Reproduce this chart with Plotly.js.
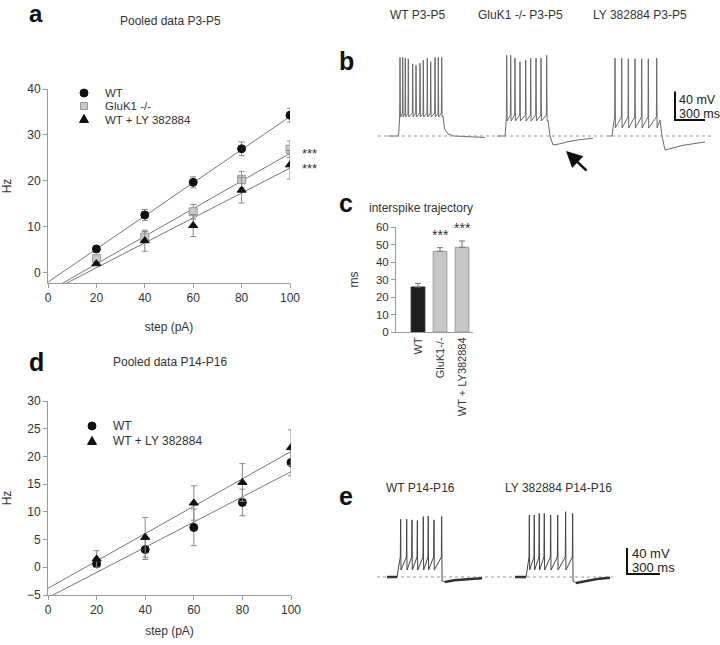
<!DOCTYPE html>
<html>
<head>
<meta charset="utf-8">
<script src="https://cdn.plot.ly/plotly-3.0.1.min.js"></script>
<style>html,body{margin:0;padding:0;background:#fff;}#chart{width:720px;height:645px;}</style>
</head>
<body>
<div id="chart"></div>
<script>
// ---------- DATA ----------
// Panel a: pooled data P3-P5
const steps = [20, 40, 60, 80, 100];
const a_wt = [5.2, 12.6, 19.7, 27.0, 34.3];
const a_wtErr = [0.6, 1.2, 1.2, 1.5, 1.5];
const a_gluk1 = [3.1, 7.8, 13.3, 20.3, 26.9];
const a_gluk1Err = [0.6, 1.2, 1.6, 1.8, 1.8];
const a_ly = [2.0, 7.0, 10.3, 18.0, 23.5];
const a_lyErr = [0.4, 2.3, 2.4, 2.8, 3.1];
const fitX = [0, 100];
const a_wtFit = [-2.0, 34.0];
const a_gluk1Fit = [-4.06, 26.0];
const a_lyFit = [-4.31, 22.8];
const a_yTicks = [0, 10, 20, 30, 40];
const xTicks = [0, 20, 40, 60, 80, 100];
const a_legend = ['WT', 'GluK1 -/-', 'WT + LY 382884'];

// Panel d: pooled data P14-P16
const d_wt = [0.6, 3.2, 7.2, 11.7, 18.9];
const d_wtErr = [0.4, 1.8, 3.3, 2.4, 2.4];
const d_ly = [1.5, 5.4, 11.6, 15.3, 21.6];
const d_lyErr = [1.5, 3.6, 3.1, 3.4, 3.2];
const d_wtFit = [-5.47, 17.25];
const d_lyFit = [-3.8, 20.9];
const d_yTicks = [-5, 0, 5, 10, 15, 20, 25, 30];
const d_legend = ['WT', 'WT + LY 382884'];

// Panel c: interspike trajectory (ms)
const c_cats = ['WT', 'GluK1-/-', 'WT + LY382884'];
const c_vals = [25.7, 46.1, 48.4];
const c_err = [2.1, 2.1, 3.6];
const c_yTicks = [0, 10, 20, 30, 40, 50, 60];

// Panel b: example traces P3-P5 (time ms, voltage mV relative to rest)
const b_wt = {start: 100, on: 205, rise: 12, up: 3, down: 4, pre: 32, trough: 26.6,
  spikeT: [220, 247, 273, 303, 347, 380, 420, 453, 493, 527, 570, 603, 637],
  spikeV: [110, 110, 109, 108, 101, 99, 102, 106, 109, 104, 110, 110, 110],
  tailT: [650, 665, 700, 760, 900, 1070], tailV: [28, 10, 3, 0, -1, -2]};
const b_gluk1 = {start: 1190, on: 1270, rise: 12, up: 3, down: 4, pre: 29.4, trough: 21,
  spikeT: [1287, 1327, 1370, 1420, 1477, 1527, 1580, 1630, 1687],
  spikeV: [113, 113, 109, 104, 106, 109, 109, 109, 113],
  tailT: [1700, 1720, 1750, 1800, 1900, 2000, 2150], tailV: [22, 0, -12.6, -11.5, -8, -5.5, -3]};
const b_ly = {start: 2310, on: 2340, rise: 10, up: 3, down: 4, pre: 26.6, trough: 11.2,
  spikeT: [2370, 2437, 2503, 2570, 2637, 2703, 2787],
  spikeV: [109, 109, 108, 108, 108, 108, 109],
  tailT: [2820, 2840, 2870, 2920, 3050, 3270], tailV: [22, 0, -19.6, -18, -13, -8.4]};
const b_baseline = [0, 3340];
const b_scaleX = [2970, 2970, 3270];
const b_scaleY = [62.4, 22.4, 22.4];

// Panel e: example traces P14-P16
const e_wt = {start: 91, on: 182, rise: 10, up: 3, down: 3, pre: 30.8, trough: 10.8,
  spikeT: [215, 270, 318, 367, 421, 466, 518, 588],
  spikeV: [89, 89, 88, 87, 93, 94, 88, 93],
  tailT: [591, 618, 700, 850, 955], tailV: [-6, -7.7, -5, -3, -2]};
const e_ly = {start: 1255, on: 1355, rise: 10, up: 3, down: 3, pre: 30.8, trough: 10.8,
  spikeT: [1385, 1430, 1475, 1521, 1579, 1643, 1715, 1779],
  spikeV: [95.5, 95.5, 98, 98, 95.5, 95.5, 100.6, 98],
  tailT: [1782, 1809, 1900, 2000, 2118], tailV: [-6, -9.2, -6, -3, -1]};
const e_baseline = [0, 2145];
const e_scaleX = [2273, 2273, 2573];
const e_scaleY = [44.6, 4.6, 4.6];

// ---------- HELPERS ----------
const W = 720, H = 645;
const px = v => v / W;
const py = v => 1 - v / H;
const FONT = 'Liberation Sans, Arial, Helvetica, sans-serif';
const TXT = '#333';

function train(p) {
  const x = [p.start, p.on], y = [0, 0];
  x.push(p.on + p.rise); y.push(p.trough);
  p.spikeT.forEach((t, i) => {
    x.push(t - p.up); y.push(p.pre);
    x.push(t); y.push(p.spikeV[i]);
    x.push(t + p.down); y.push(p.trough);
  });
  p.tailT.forEach((t, i) => { x.push(t); y.push(p.tailV[i]); });
  return {x, y};
}

const traces = [];
function fitLine(xa, ya, yv) {
  traces.push({type: 'scatter', mode: 'lines', x: fitX, y: yv, xaxis: xa, yaxis: ya,
    line: {color: '#777', width: 1}, hoverinfo: 'skip'});
}
function pts(xa, ya, yv, err, sym, fill, lineCol, size) {
  traces.push({type: 'scatter', mode: 'markers', x: steps, y: yv, xaxis: xa, yaxis: ya,
    error_y: {type: 'data', array: err, visible: true, color: '#888', thickness: 1, width: 3},
    marker: {symbol: sym, size: size, color: fill, line: {color: lineCol, width: 1}}});
}

// Panel a
fitLine('x', 'y', a_wtFit); fitLine('x', 'y', a_gluk1Fit); fitLine('x', 'y', a_lyFit);
pts('x', 'y', a_wt, a_wtErr, 'circle', '#111', '#111', 8);
pts('x', 'y', a_gluk1, a_gluk1Err, 'square', '#c8c8c8', '#999', 8);
pts('x', 'y', a_ly, a_lyErr, 'triangle-up', '#111', '#111', 8);

// Panel d
fitLine('x2', 'y2', d_wtFit); fitLine('x2', 'y2', d_lyFit);
pts('x2', 'y2', d_wt, d_wtErr, 'circle', '#111', '#111', 8);
pts('x2', 'y2', d_ly, d_lyErr, 'triangle-up', '#111', '#111', 8);

// Panel c
traces.push({type: 'bar', x: c_cats, y: c_vals, xaxis: 'x3', yaxis: 'y3', width: 0.62,
  marker: {color: ['#1e1e1e', '#c8c8c8', '#c8c8c8'], line: {color: ['#1e1e1e', '#9a9a9a', '#9a9a9a'], width: 1}},
  error_y: {type: 'data', array: c_err, arrayminus: [0, 0, 0], visible: true, color: '#777', thickness: 1, width: 3}});

// Panel b traces
[b_wt, b_gluk1, b_ly].forEach(p => {
  const t = train(p);
  traces.push({type: 'scatter', mode: 'lines', x: t.x, y: t.y, xaxis: 'x4', yaxis: 'y4',
    line: {color: '#6a6a6a', width: 1}, hoverinfo: 'skip'});
});
traces.push({type: 'scatter', mode: 'lines', x: b_baseline, y: [0, 0], xaxis: 'x4', yaxis: 'y4',
  line: {color: '#999', width: 1, dash: 'dot'}});
traces.push({type: 'scatter', mode: 'lines', x: b_scaleX, y: b_scaleY, xaxis: 'x4', yaxis: 'y4',
  line: {color: '#111', width: 2}});

// Panel e traces
traces.push({type: 'scatter', mode: 'lines', x: e_baseline, y: [0, 0], xaxis: 'x5', yaxis: 'y5',
  line: {color: '#999', width: 1, dash: 'dot'}});
[e_wt, e_ly].forEach(p => {
  const t = train(p);
  traces.push({type: 'scatter', mode: 'lines', x: t.x, y: t.y, xaxis: 'x5', yaxis: 'y5',
    line: {color: '#444', width: 1}, hoverinfo: 'skip'});
  traces.push({type: 'scatter', mode: 'lines', x: [p.start, p.on], y: [0, 0], xaxis: 'x5', yaxis: 'y5',
    line: {color: '#333', width: 2.5}});
  traces.push({type: 'scatter', mode: 'lines', x: p.tailT.slice(1), y: p.tailV.slice(1), xaxis: 'x5', yaxis: 'y5',
    line: {color: '#333', width: 2.5}});
});
traces.push({type: 'scatter', mode: 'lines', x: e_scaleX, y: e_scaleY, xaxis: 'x5', yaxis: 'y5',
  line: {color: '#111', width: 2}});

// ---------- LAYOUT ----------
const axCommon = {showline: true, linecolor: '#999', linewidth: 1, ticks: 'outside', ticklen: 4,
  tickcolor: '#999', tickfont: {family: FONT, size: 12, color: TXT}, zeroline: false, showgrid: false,
  fixedrange: true};
const hidden = {visible: false, fixedrange: true};

function ann(text, x, y, opt) {
  return Object.assign({text: text, x: px(x), y: py(y), xref: 'paper', yref: 'paper',
    showarrow: false, xanchor: 'center', yanchor: 'middle',
    font: {family: FONT, size: 12, color: TXT}}, opt || {});
}
const bold = s => ({family: FONT, size: s, color: '#111', weight: 'bold'});
const leg = {family: FONT, size: 11.5, color: TXT};
const star = {family: FONT, size: 13, color: TXT};

const annotations = [
  ann('<b>a</b>', 36, 14, {font: bold(24)}),
  ann('<b>b</b>', 346, 61, {font: bold(25)}),
  ann('<b>c</b>', 346, 203, {font: bold(25)}),
  ann('<b>d</b>', 36, 362, {font: bold(25)}),
  ann('<b>e</b>', 346, 496, {font: bold(25)}),
  ann('Pooled data P3-P5', 170, 21),
  ann('Pooled data P14-P16', 170, 362),
  ann('WT P3-P5', 417, 15),
  ann('GluK1 -/- P3-P5', 520, 15),
  ann('LY 382884 P3-P5', 640, 15),
  ann('interspike trajectory', 421, 208),
  ann('WT P14-P16', 420, 488),
  ann('LY 382884 P14-P16', 558, 488),
  ann('40 mV', 677, 100, {xanchor: 'left', font: {family: FONT, size: 12.5, color: '#222'}}),
  ann('300 ms', 677, 114, {xanchor: 'left', font: {family: FONT, size: 12.5, color: '#222'}}),
  ann('40 mV', 630, 553, {xanchor: 'left', font: {family: FONT, size: 13, color: '#222'}}),
  ann('300 ms', 630, 567, {xanchor: 'left', font: {family: FONT, size: 13, color: '#222'}}),
  // legends (text)
  ann(a_legend[0], 103, 92.5, {xanchor: 'left', font: leg}),
  ann(a_legend[1], 103, 106, {xanchor: 'left', font: leg}),
  ann(a_legend[2], 103, 119.5, {xanchor: 'left', font: leg}),
  ann(d_legend[0], 111, 426, {xanchor: 'left'}),
  ann(d_legend[1], 111, 441, {xanchor: 'left'}),
  // significance
  ann('***', 300, 153, {xanchor: 'left', font: star}),
  ann('***', 300, 168, {xanchor: 'left', font: star}),
  ann('***', 440, 235, {font: {family: FONT, size: 14, color: TXT}}),
  ann('***', 462, 228, {font: {family: FONT, size: 14, color: TXT}}),
  // arrow
  {x: px(566), y: py(151), xref: 'paper', yref: 'paper', ax: 22, ay: 21, text: '', showarrow: true,
    arrowhead: 2, arrowsize: 1.3, arrowwidth: 2.5, arrowcolor: '#111'}
];

function sym(kind, cx, cy, fill, line) {
  const base = {xref: 'paper', yref: 'paper', xsizemode: 'pixel', ysizemode: 'pixel',
    xanchor: px(cx), yanchor: py(cy), fillcolor: fill, line: {color: line, width: 1}};
  if (kind === 'circle') return Object.assign(base, {type: 'circle', x0: -4, x1: 4, y0: -4, y1: 4});
  if (kind === 'square') return Object.assign(base, {type: 'rect', x0: -3.5, x1: 3.5, y0: -3.5, y1: 3.5});
  return Object.assign(base, {type: 'path', path: 'M-4.5,-3.5 L4.5,-3.5 L0,4.5 Z'});
}
const shapes = [
  sym('circle', 84, 93, '#111', '#111'),
  sym('square', 84, 106, '#c8c8c8', '#999'),
  sym('tri', 84, 119, '#111', '#111'),
  sym('circle', 92, 426, '#111', '#111'),
  sym('tri', 92, 441, '#111', '#111')
];

const layout = {
  width: W, height: H, margin: {l: 0, r: 0, t: 0, b: 0}, paper_bgcolor: '#fff', plot_bgcolor: 'rgba(0,0,0,0)',
  showlegend: false, font: {family: FONT, size: 12, color: TXT},
  xaxis: Object.assign({}, axCommon, {domain: [px(48), px(290)], range: [0, 100], tickvals: xTicks, anchor: 'y',
    title: {text: 'step (pA)', font: {family: FONT, size: 12, color: TXT}, standoff: 18}}),
  yaxis: Object.assign({}, axCommon, {domain: [py(283), py(89)], range: [-2.2, 40], tickvals: a_yTicks, anchor: 'x',
    title: {text: 'Hz', font: {family: FONT, size: 12, color: TXT}, standoff: 14}}),
  xaxis2: Object.assign({}, axCommon, {domain: [px(48), px(291)], range: [0, 100], tickvals: xTicks, anchor: 'y2',
    title: {text: 'step (pA)', font: {family: FONT, size: 12, color: TXT}, standoff: 10}}),
  yaxis2: Object.assign({}, axCommon, {domain: [py(595), py(401)], range: [-5, 30], tickvals: d_yTicks, anchor: 'x2',
    title: {text: 'Hz', font: {family: FONT, size: 12, color: TXT}, standoff: 14}}),
  xaxis3: Object.assign({}, axCommon, {domain: [px(396), px(473)], type: 'category', range: [-1, 2.5], anchor: 'y3',
    ticks: '', tickangle: -90, tickfont: {family: FONT, size: 11, color: TXT}}),
  yaxis3: Object.assign({}, axCommon, {domain: [py(332), py(227)], range: [0, 60], tickvals: c_yTicks, anchor: 'x3',
    tickfont: {family: FONT, size: 11.5, color: TXT},
    title: {text: 'ms', font: {family: FONT, size: 12, color: TXT}, standoff: 14}}),
  xaxis4: Object.assign({}, hidden, {domain: [px(378), px(712)], range: [0, 3340], anchor: 'y4'}),
  yaxis4: Object.assign({}, hidden, {domain: [py(160), py(45)], range: [-33.6, 127.4], anchor: 'x4'}),
  xaxis5: Object.assign({}, hidden, {domain: [px(377), px(670)], range: [0, 2664], anchor: 'y5'}),
  yaxis5: Object.assign({}, hidden, {domain: [py(595), py(505)], range: [-27.7, 110.9], anchor: 'x5'}),
  annotations: annotations,
  shapes: shapes
};

Plotly.newPlot('chart', traces, layout, {displayModeBar: false, staticPlot: true});
</script>
</body>
</html>
